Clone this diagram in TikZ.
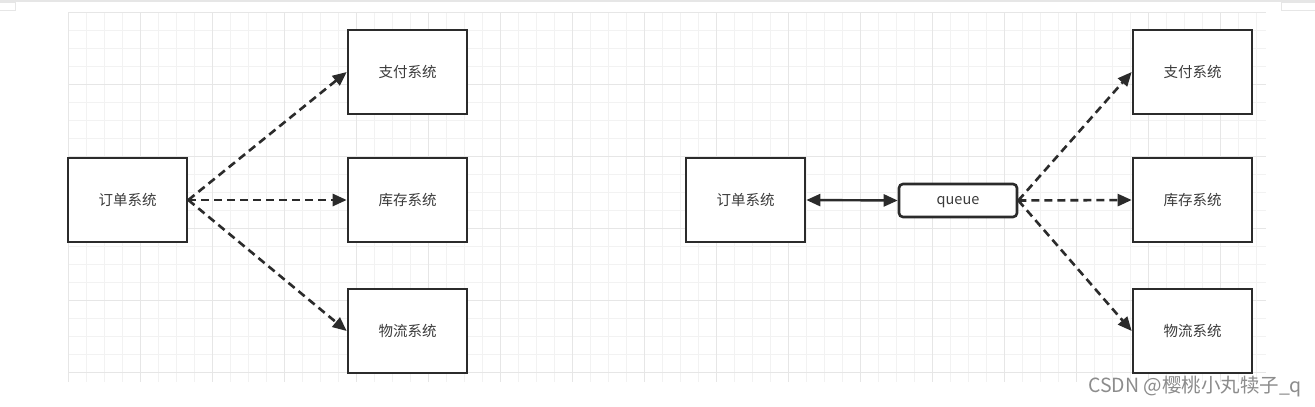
\documentclass[tikz,border=0pt]{standalone}
\usepackage{fontspec}
\setmainfont{Noto Sans CJK SC}
\usetikzlibrary{arrows.meta}
\definecolor{gridminor}{HTML}{F2F2F2}
\definecolor{gridmajor}{HTML}{E6E6E6}
\definecolor{boxline}{HTML}{2B2B2B}
\definecolor{txt}{HTML}{3A3A3A}
\begin{document}
\begin{tikzpicture}[x=1pt,y=-1pt,
  sysbox/.style={draw=boxline,line width=2.6pt,fill=white,minimum width=119pt,minimum height=84pt,inner sep=0pt,font=\fontsize{14.5}{16}\selectfont,text=txt},
  qbox/.style={draw=boxline,line width=2.6pt,fill=white,rounded corners=4pt,minimum width=118pt,minimum height=33pt,inner sep=0pt,font=\fontsize{14.5}{16}\selectfont,text=txt},
  dashedarrow/.style={draw=boxline,line width=2.6pt,dash pattern=on 8pt off 5pt,-{Triangle[length=14pt,width=12pt]}},
  solidarrow/.style={draw=boxline,line width=2.4pt,{Triangle[length=14pt,width=12pt]}-{Triangle[length=14pt,width=12pt]}}
]
\useasboundingbox (0,0) rectangle (1315,407);
\fill[white] (0,0) rectangle (1315,407);
% top strip
\fill[gridmajor] (0,0) rectangle (1315,2);
\draw[gridmajor,line width=0.8pt] (0,2) -- (15,2) -- (15,10) -- (0,10);
\draw[gridmajor,line width=0.8pt] (1315,2) -- (1281,2) -- (1281,10) -- (1315,10);
% grid
\foreach \x in {68,86,...,1266} \draw[gridminor,line width=0.6pt] (\x,12) -- (\x,382);
\foreach \y in {12,30,...,382} \draw[gridminor,line width=0.6pt] (68,\y) -- (1266,\y);
\foreach \x in {68,140,...,1266} \draw[gridmajor,line width=0.7pt] (\x,12) -- (\x,382);
\foreach \y in {12,84,...,382} \draw[gridmajor,line width=0.7pt] (68,\y) -- (1266,\y);
% left
\node[sysbox] (lorder) at (127.5,200) {订单系统};
\node[sysbox] (lpay) at (407.5,72) {支付系统};
\node[sysbox] (lstock) at (407.5,200) {库存系统};
\node[sysbox] (llog) at (407.5,331) {物流系统};
\draw[dashedarrow] (lorder.east) -- (lpay.west);
\draw[dashedarrow] (lorder.east) -- (lstock.west);
\draw[dashedarrow] (lorder.east) -- (llog.west);
% right
\node[sysbox] (rorder) at (745.5,200) {订单系统};
\node[qbox] (queue) at (958,200.5) {};
\node[inner sep=0pt,font=\fontsize{14.5}{16}\selectfont,text=txt] (qlabel) at (958,202) {queue};
\node[sysbox] (rpay) at (1192.5,72) {支付系统};
\node[sysbox] (rstock) at (1192.5,200) {库存系统};
\node[sysbox] (rlog) at (1192.5,331) {物流系统};
\draw[solidarrow] (rorder.east) -- (queue.west);
\draw[dashedarrow] (queue.east) -- (rpay.west);
\draw[dashedarrow] (queue.east) -- (rstock.west);
\draw[dashedarrow] (queue.east) -- (rlog.west);
% watermark
\node[anchor=west,inner sep=0pt,text=black!45,font=\fontsize{19.5}{21}\selectfont] (wm) at (1088,387) {CSDN @樱桃小丸犊子\_q};
\end{tikzpicture}
\end{document}
